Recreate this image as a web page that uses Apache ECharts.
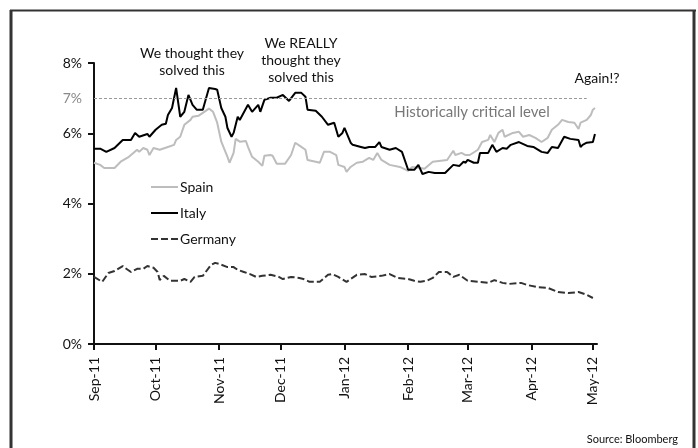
<!DOCTYPE html>
<html>
<head>
<meta charset="utf-8">
<script src="https://cdn.jsdelivr.net/npm/echarts@6/dist/echarts.min.js"></script>
<style>
  html, body { margin: 0; padding: 0; background: #fff; }
  #chart { width: 698px; height: 448px; }
</style>
</head>
<body>
<div id="chart"></div>
<script>
// 10y government bond yields, %
const spainDates = ['2011-09-01','2011-09-04','2011-09-06','2011-09-11','2011-09-14','2011-09-18','2011-09-22','2011-09-23','2011-09-25','2011-09-27','2011-09-28','2011-09-30','2011-10-03','2011-10-07','2011-10-10','2011-10-11','2011-10-13','2011-10-15','2011-10-18','2011-10-19','2011-10-22','2011-10-24','2011-10-27','2011-10-29','2011-10-31','2011-11-02','2011-11-05','2011-11-06','2011-11-08','2011-11-09','2011-11-11','2011-11-14','2011-11-15','2011-11-17','2011-11-20','2011-11-22','2011-11-23','2011-11-26','2011-11-27','2011-11-29','2011-12-03','2011-12-06','2011-12-08','2011-12-11','2011-12-13','2011-12-14','2011-12-18','2011-12-20','2011-12-22','2011-12-25','2011-12-28','2011-12-29','2012-01-01','2012-01-02','2012-01-04','2012-01-07','2012-01-10','2012-01-13','2012-01-15','2012-01-17','2012-01-19','2012-01-23','2012-01-28','2012-02-01','2012-02-03','2012-02-07','2012-02-09','2012-02-13','2012-02-20','2012-02-23','2012-02-24','2012-02-27','2012-02-29','2012-03-02','2012-03-06','2012-03-08','2012-03-11','2012-03-12','2012-03-14','2012-03-16','2012-03-18','2012-03-19','2012-03-23','2012-03-26','2012-03-28','2012-03-31','2012-04-03','2012-04-06','2012-04-09','2012-04-11','2012-04-14','2012-04-16','2012-04-19','2012-04-22','2012-04-24','2012-04-25','2012-04-28','2012-04-30','2012-05-01','2012-05-02'];
const spainValues = [5.16,5.10,5.01,5.01,5.19,5.33,5.53,5.47,5.58,5.53,5.38,5.58,5.53,5.61,5.67,5.81,5.90,6.24,6.38,6.47,6.50,6.58,6.70,6.61,6.30,5.76,5.33,5.16,5.44,5.84,5.76,5.78,5.61,5.33,5.19,5.07,5.36,5.38,5.36,5.13,5.13,5.38,5.73,5.61,5.53,5.24,5.19,5.16,5.47,5.47,5.38,5.10,5.04,4.90,5.04,5.16,5.19,5.30,5.24,5.44,5.24,5.10,5.04,4.93,5.04,5.01,4.99,5.19,5.24,5.50,5.38,5.44,5.38,5.38,5.53,5.75,5.81,5.95,5.75,6.01,6.10,5.90,6.01,6.04,5.90,5.95,5.87,5.75,5.87,6.10,6.24,6.38,6.32,6.30,6.12,6.30,6.38,6.52,6.67,6.72];

const italyDates = ['2011-09-01','2011-09-04','2011-09-07','2011-09-11','2011-09-15','2011-09-19','2011-09-21','2011-09-23','2011-09-27','2011-09-28','2011-10-01','2011-10-04','2011-10-06','2011-10-07','2011-10-09','2011-10-11','2011-10-13','2011-10-15','2011-10-17','2011-10-19','2011-10-21','2011-10-24','2011-10-27','2011-10-30','2011-10-31','2011-11-02','2011-11-04','2011-11-05','2011-11-07','2011-11-08','2011-11-10','2011-11-11','2011-11-15','2011-11-17','2011-11-20','2011-11-21','2011-11-23','2011-11-26','2011-11-29','2011-12-02','2011-12-05','2011-12-08','2011-12-11','2011-12-13','2011-12-14','2011-12-18','2011-12-21','2011-12-24','2011-12-27','2011-12-29','2011-12-31','2012-01-01','2012-01-04','2012-01-05','2012-01-09','2012-01-11','2012-01-13','2012-01-16','2012-01-18','2012-01-19','2012-01-23','2012-01-26','2012-01-29','2012-02-01','2012-02-04','2012-02-06','2012-02-08','2012-02-11','2012-02-14','2012-02-19','2012-02-23','2012-02-26','2012-02-28','2012-02-29','2012-03-01','2012-03-04','2012-03-06','2012-03-07','2012-03-11','2012-03-13','2012-03-15','2012-03-18','2012-03-20','2012-03-22','2012-03-26','2012-03-30','2012-04-02','2012-04-06','2012-04-09','2012-04-11','2012-04-14','2012-04-17','2012-04-20','2012-04-24','2012-04-25','2012-04-26','2012-04-28','2012-05-01','2012-05-02'];
const italyValues = [5.56,5.56,5.47,5.58,5.81,5.81,6.01,5.90,5.98,5.90,6.10,6.24,6.27,6.52,6.72,7.29,6.47,6.61,7.09,6.81,6.67,6.67,7.29,7.26,7.24,6.72,6.47,6.15,5.90,6.01,6.47,6.38,6.81,6.61,6.81,6.61,6.95,7.01,7.01,7.09,6.92,7.15,7.15,7.04,6.67,6.64,6.47,6.24,6.30,5.90,6.01,6.15,5.73,5.67,5.61,5.58,5.61,5.61,5.75,5.61,5.53,5.58,5.47,4.96,4.96,5.10,4.84,4.90,4.87,4.87,5.10,5.07,5.19,5.16,5.24,5.16,5.16,5.44,5.44,5.67,5.47,5.58,5.56,5.67,5.75,5.64,5.61,5.47,5.44,5.61,5.58,5.90,5.84,5.81,5.61,5.67,5.73,5.75,5.98];

const germanyDates = ['2011-09-01','2011-09-05','2011-09-08','2011-09-11','2011-09-15','2011-09-16','2011-09-19','2011-09-22','2011-09-25','2011-09-27','2011-09-30','2011-10-02','2011-10-03','2011-10-05','2011-10-08','2011-10-13','2011-10-15','2011-10-18','2011-10-20','2011-10-24','2011-10-25','2011-10-28','2011-10-30','2011-11-01','2011-11-05','2011-11-08','2011-11-10','2011-11-13','2011-11-16','2011-11-19','2011-11-22','2011-11-26','2011-11-30','2011-12-02','2011-12-06','2011-12-10','2011-12-12','2011-12-15','2011-12-20','2011-12-24','2011-12-26','2011-12-29','2012-01-02','2012-01-07','2012-01-11','2012-01-14','2012-01-19','2012-01-23','2012-01-27','2012-02-01','2012-02-04','2012-02-07','2012-02-10','2012-02-13','2012-02-16','2012-02-20','2012-02-23','2012-02-26','2012-03-01','2012-03-07','2012-03-11','2012-03-14','2012-03-18','2012-03-21','2012-03-27','2012-03-30','2012-04-04','2012-04-09','2012-04-14','2012-04-19','2012-04-24','2012-04-28','2012-05-01'];
const germanyValues = [1.91,1.77,2.02,2.08,2.22,2.17,2.05,2.14,2.14,2.22,2.17,2.05,1.82,1.94,1.80,1.80,1.85,1.77,1.91,1.94,2.02,2.25,2.31,2.28,2.19,2.19,2.11,2.05,1.99,1.91,1.94,1.97,1.91,1.85,1.91,1.88,1.85,1.77,1.77,1.97,1.99,1.91,1.77,1.97,1.99,1.91,1.94,1.99,1.88,1.85,1.80,1.77,1.80,1.88,2.05,2.05,1.91,1.97,1.80,1.77,1.74,1.82,1.74,1.71,1.74,1.68,1.62,1.60,1.48,1.45,1.48,1.40,1.31];

const monthNames = ['Jan','Feb','Mar','Apr','May','Jun','Jul','Aug','Sep','Oct','Nov','Dec'];
const yLabelValues = [0, 2, 4, 6, 7, 8];
const yTickValues = [0, 2, 4, 6, 8];
const criticalLevel = 7;

const FONT = 'Lato, "Open Sans", sans-serif';
const DAY = 24 * 3600 * 1000;

function ts(s) {
  const p = s.split('-').map(Number);
  return new Date(p[0], p[1] - 1, p[2]).getTime();
}
function pairs(dates, values) {
  return dates.map((d, i) => [ts(d), values[i]]);
}

const chart = echarts.init(document.getElementById('chart'));

const option = {
  animation: false,
  backgroundColor: '#fff',
  textStyle: { fontFamily: FONT },
  grid: { left: 94, right: 101, top: 63, bottom: 104 },
  legend: {
    orient: 'vertical',
    left: 145,
    top: 175,
    itemWidth: 27,
    itemHeight: 10,
    itemGap: 12,
    // hide the marker dot, keep only the line
    itemStyle: { color: 'rgba(0,0,0,0)', borderWidth: 0, opacity: 0 },
    textStyle: { fontFamily: FONT, fontSize: 14, color: '#111', padding: [0, 0, 0, -3] },
    data: ['Spain', 'Italy', 'Germany']
  },
  xAxis: {
    type: 'time',
    min: ts('2011-09-01'),
    max: ts('2012-05-03'),
    minInterval: 28 * DAY,
    maxInterval: 31 * DAY,
    splitLine: { show: false },
    axisLine: { lineStyle: { color: '#111', width: 2 } },
    axisTick: {
      length: 6,
      lineStyle: { color: '#111', width: 2 }
    },
    minorTick: { show: false },
    axisLabel: {
      rotate: 90,
      margin: 13,
      fontSize: 14,
      color: '#111',
      fontFamily: FONT,
      showMaxLabel: false,
      formatter: function (v) {
        const d = new Date(v);
        return monthNames[d.getMonth()] + '-' + String(d.getFullYear()).slice(2);
      }
    }
  },
  yAxis: {
    type: 'value',
    min: 0,
    max: 8,
    splitLine: { show: false },
    axisLine: { show: true, lineStyle: { color: '#111', width: 2 } },
    axisTick: {
      show: true,
      customValues: yTickValues,
      length: 6,
      lineStyle: { color: '#111', width: 2 }
    },
    axisLabel: {
      customValues: yLabelValues,
      margin: 12,
      fontSize: 14,
      color: '#111',
      fontFamily: FONT,
      formatter: function (v) {
        return v === criticalLevel ? '{g|' + v + '%}' : v + '%';
      },
      rich: { g: { color: '#888', fontSize: 14, fontFamily: FONT } }
    }
  },
  series: [
    {
      name: 'Spain',
      type: 'line',
      symbol: 'none',
      data: pairs(spainDates, spainValues),
      lineStyle: { color: '#bdbdbd', width: 2 },
      itemStyle: { color: '#bdbdbd' },
      z: 2
    },
    {
      name: 'Italy',
      type: 'line',
      symbol: 'none',
      data: pairs(italyDates, italyValues),
      lineStyle: { color: '#000', width: 2 },
      itemStyle: { color: '#000' },
      z: 3,
      markLine: {
        silent: true,
        symbol: 'none',
        label: { show: false },
        lineStyle: { color: '#999', width: 1, type: [3, 2] },
        data: [[
          { coord: [ts('2011-09-01'), criticalLevel] },
          { coord: [ts('2012-04-28'), criticalLevel] }
        ]]
      }
    },
    {
      name: 'Germany',
      type: 'line',
      symbol: 'none',
      data: pairs(germanyDates, germanyValues),
      lineStyle: { color: '#333', width: 2, type: [7, 3] },
      itemStyle: { color: '#333' },
      z: 2
    }
  ],
  graphic: [
    // frame
    { type: 'line', shape: { x1: 11, y1: 10, x2: 11, y2: 448 }, style: { stroke: '#333', lineWidth: 3 } },
    { type: 'line', shape: { x1: 694, y1: 10, x2: 694, y2: 448 }, style: { stroke: '#333', lineWidth: 3 } },
    { type: 'line', shape: { x1: 10, y1: 10.5, x2: 696, y2: 10.5 }, style: { stroke: '#333', lineWidth: 2 } },
    // annotations
    { type: 'text', x: 192, y: 62, style: { text: 'We thought they\nsolved this', font: '14px ' + FONT, fill: '#111', align: 'center', verticalAlign: 'middle', lineHeight: 17 } },
    { type: 'text', x: 301, y: 60, style: { text: 'We REALLY\nthought they\nsolved this', font: '14px ' + FONT, fill: '#111', align: 'center', verticalAlign: 'middle', lineHeight: 17 } },
    { type: 'text', x: 597, y: 78, style: { text: 'Again!?', font: '14px ' + FONT, fill: '#111', align: 'center', verticalAlign: 'middle' } },
    { type: 'text', x: 472, y: 112, style: { text: 'Historically critical level', font: '15px ' + FONT, fill: '#777', align: 'center', verticalAlign: 'middle' } },
    { type: 'text', right: 20, bottom: 3, style: { text: 'Source: Bloomberg', font: '11px ' + FONT, fill: '#111' } }
  ]
};

chart.setOption(option);
</script>
</body>
</html>
